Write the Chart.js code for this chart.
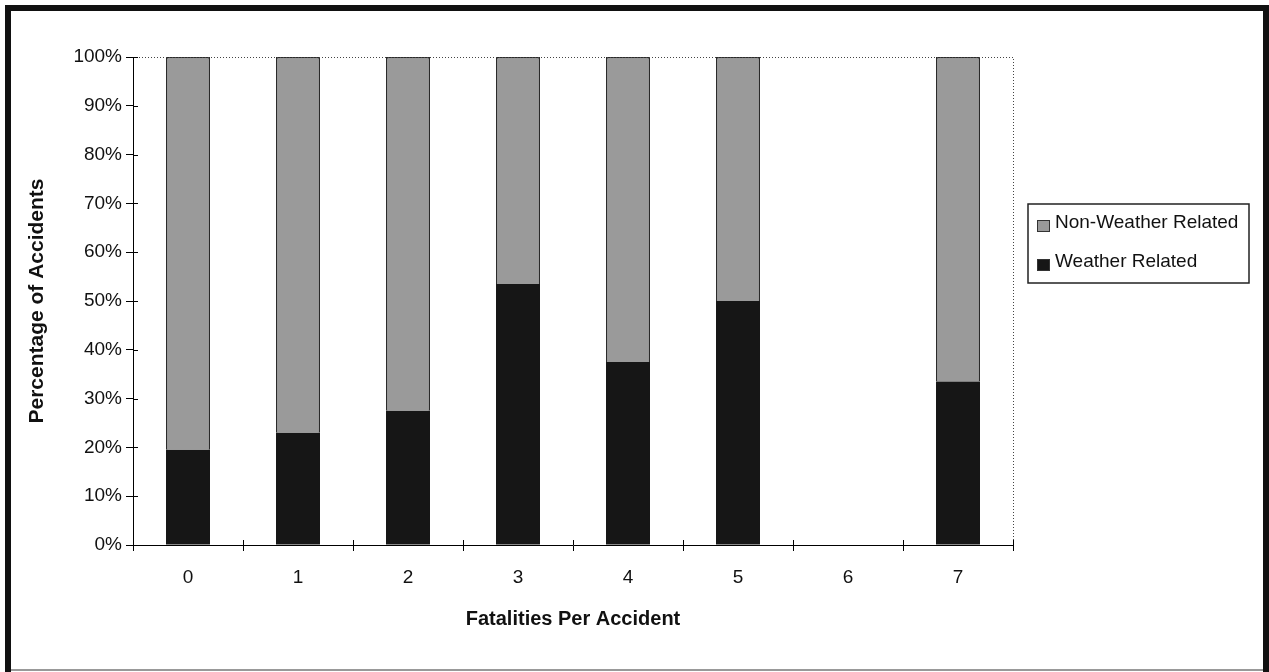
<!DOCTYPE html>
<html lang="en">
<head>
    <meta charset="UTF-8">
    <title>Fatalities Per Accident</title>
    <style>
        html, body { margin: 0; padding: 0; background: #fff; }
        #wrap { width: 1269px; height: 672px; }
    </style>
</head>
<body>
    <div id="wrap">
        <canvas id="chart" width="1269" height="672"></canvas>
    </div>

    <script src="https://cdn.jsdelivr.net/npm/chart.js"></script>
    <script>
        // data
        const categories = ['0', '1', '2', '3', '4', '5', '6', '7'];
        const weatherRelated = [19.5, 23, 27.5, 53.5, 37.5, 50, null, 33.5];
        const nonWeatherRelated = [80.5, 77, 72.5, 46.5, 62.5, 50, null, 66.5];
        const seriesNames = ['Weather Related', 'Non-Weather Related'];
        const yTicks = [0, 10, 20, 30, 40, 50, 60, 70, 80, 90, 100];

        const GRAY = '#9a9a9a';
        const DARK = '#161616';
        const FONT = '"Liberation Sans", Arial, sans-serif';

        // frame, dotted box, crossing ticks and the legend
        const extras = {
            id: 'extras',
            beforeDraw(chart) {
                const c = chart.ctx;
                c.save();
                c.fillStyle = '#fff';
                c.fillRect(0, 0, chart.width, chart.height);
                c.restore();
            },
            afterDraw(chart) {
                const c = chart.ctx;
                const a = chart.chartArea;
                const x = chart.scales.x, y = chart.scales.y;
                c.save();

                // dotted top and right edges of the plot
                c.strokeStyle = '#444';
                c.lineWidth = 1;
                c.setLineDash([1, 2]);
                c.beginPath();
                c.moveTo(a.left, a.top + 0.5);
                c.lineTo(a.right + 0.5, a.top + 0.5);
                c.lineTo(a.right + 0.5, a.bottom);
                c.stroke();
                c.setLineDash([]);

                // inner half of the tick marks
                c.strokeStyle = '#000';
                c.beginPath();
                yTicks.forEach(v => {
                    const py = Math.round(y.getPixelForValue(v)) + 0.5;
                    c.moveTo(a.left, py);
                    c.lineTo(a.left + 5, py);
                });
                for (let i = 0; i <= categories.length; i++) {
                    const px = Math.round(x.getPixelForValue(i - 0.5)) + 0.5;
                    c.moveTo(px, a.bottom);
                    c.lineTo(px, a.bottom - 5);
                }
                c.stroke();

                // legend box
                c.strokeStyle = '#222';
                c.lineWidth = 1.5;
                c.strokeRect(1028, 204, 221, 79);
                const items = [
                    { label: seriesNames[1], color: GRAY, y: 223 },
                    { label: seriesNames[0], color: DARK, y: 262 }
                ];
                c.font = '19px ' + FONT;
                c.textBaseline = 'middle';
                items.forEach(it => {
                    c.fillStyle = it.color;
                    c.fillRect(1037, it.y - 3, 13, 12);
                    c.strokeStyle = '#333';
                    c.lineWidth = 1;
                    c.strokeRect(1037.5, it.y - 2.5, 12, 11);
                    c.fillStyle = '#111';
                    c.fillText(it.label, 1055, it.y);
                });

                // outer frame: thick left/top/right, thin bottom
                c.strokeStyle = '#111';
                c.lineWidth = 6;
                c.beginPath();
                c.moveTo(8, chart.height);
                c.lineTo(8, 8);
                c.lineTo(chart.width - 3, 8);
                c.lineTo(chart.width - 3, chart.height);
                c.stroke();
                c.strokeStyle = '#777';
                c.lineWidth = 1.5;
                c.beginPath();
                c.moveTo(11, 670);
                c.lineTo(chart.width - 6, 670);
                c.stroke();
                c.restore();
            }
        };

        const ctx = document.getElementById('chart').getContext('2d');
        new Chart(ctx, {
            type: 'bar',
            data: {
                labels: categories,
                datasets: [{
                    label: seriesNames[0],
                    data: weatherRelated,
                    backgroundColor: DARK,
                    borderColor: DARK,
                    borderWidth: 0
                }, {
                    label: seriesNames[1],
                    data: nonWeatherRelated,
                    backgroundColor: GRAY,
                    borderColor: '#2a2a2a',
                    borderWidth: 1.5
                }]
            },
            options: {
                responsive: false,
                animation: false,
                layout: { padding: { left: 0, top: 57, right: 256, bottom: 0 } },
                datasets: { bar: { categoryPercentage: 1, barPercentage: 0.4 } },
                plugins: {
                    legend: { display: false },
                    tooltip: { enabled: false }
                },
                scales: {
                    x: {
                        stacked: true,
                        offset: true,
                        border: { display: true, color: '#000', width: 1 },
                        grid: { offset: true, drawOnChartArea: false, color: '#000', tickLength: 6 },
                        ticks: { color: '#111', font: { family: FONT, size: 19 }, padding: 15, maxRotation: 0 },
                        title: {
                            display: true,
                            text: 'Fatalities Per Accident',
                            color: '#111',
                            font: { family: FONT, size: 20, weight: 'bold' },
                            padding: { top: 0, bottom: 41 }
                        },
                        afterFit(s) { s.height = 127; }
                    },
                    y: {
                        stacked: true,
                        min: 0,
                        max: 100,
                        border: { display: true, color: '#000', width: 1 },
                        grid: { drawOnChartArea: false, color: '#000', tickLength: 7 },
                        afterBuildTicks(s) { s.ticks = yTicks.map(v => ({ value: v })); },
                        ticks: {
                            color: '#111',
                            font: { family: FONT, size: 19 },
                            padding: 4,
                            callback: v => v + '%'
                        },
                        title: {
                            display: true,
                            text: 'Percentage of Accidents',
                            color: '#111',
                            font: { family: FONT, size: 21, weight: 'bold' },
                            padding: { top: 25, bottom: 0 }
                        },
                        afterFit(s) { s.width = 133; }
                    }
                }
            },
            plugins: [extras]
        });
    </script>
</body>
</html>
